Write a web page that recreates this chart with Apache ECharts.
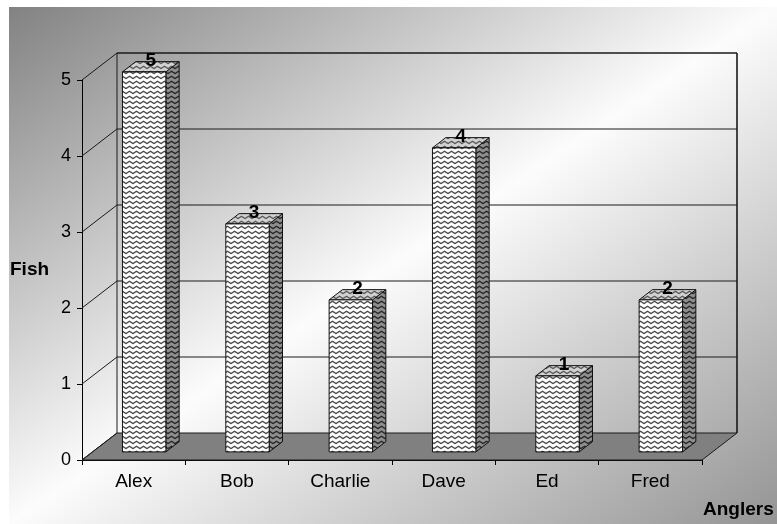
<!DOCTYPE html>
<html>
<head>
<meta charset="utf-8">
<script src="https://cdn.jsdelivr.net/npm/echarts@6/dist/echarts.min.js"></script>
<style>
  html, body { margin: 0; padding: 0; background: #ffffff; }
  #chart { width: 777px; height: 524px; }
</style>
</head>
<body>
<div id="chart"></div>
<script>
// Fish caught per angler
const categories = ['Alex', 'Bob', 'Charlie', 'Dave', 'Ed', 'Fred'];
const fishCaught = [5, 3, 2, 4, 1, 2];
const valueTicks = [0, 1, 2, 3, 4, 5];

// Pseudo-3D box: depth offset in pixels, bar placement within the depth
const DEPTH_X = 35, DEPTH_Y = -27;
const BAR_NEAR = 0.3, BAR_FAR = 0.68, BAR_WIDTH = 0.42;
const FONT = 'Arial, "Liberation Sans", sans-serif';

// Small repeating tile with a wavy line, used to fill bar faces
function wavePattern(bg, fg) {
  const c = document.createElement('canvas');
  c.width = 7; c.height = 5;
  const g = c.getContext('2d');
  g.fillStyle = bg; g.fillRect(0, 0, 7, 5);
  g.strokeStyle = fg; g.lineWidth = 1.3;
  g.beginPath();
  g.moveTo(-1, 3.6); g.lineTo(0, 3.6); g.lineTo(3.5, 1.2); g.lineTo(7, 3.6); g.lineTo(8, 3.6);
  g.stroke();
  return { image: c, repeat: 'repeat' };
}
const frontFill = wavePattern('#ffffff', '#4a4a4a');
const sideFill = wavePattern('#8e8e8e', '#262626');
const topFill = wavePattern('#d2d2d2', '#5a5a5a');

const chart = echarts.init(document.getElementById('chart'), null, { renderer: 'canvas' });

function renderBox(params, api) {
  const cs = params.coordSys;
  const x = cs.x, y = cs.y, w = cs.width, h = cs.height;
  const line = { stroke: '#1a1a1a', lineWidth: 1 };
  const children = [];
  // floor
  children.push({
    type: 'polygon',
    shape: { points: [[x, y + h], [x + w, y + h], [x + w + DEPTH_X, y + h + DEPTH_Y], [x + DEPTH_X, y + h + DEPTH_Y]] },
    style: { fill: '#808080', stroke: '#1a1a1a', lineWidth: 1 }
  });
  // back wall edges
  children.push({ type: 'line', shape: { x1: x + DEPTH_X, y1: y + DEPTH_Y, x2: x + DEPTH_X, y2: y + h + DEPTH_Y }, style: line });
  children.push({ type: 'line', shape: { x1: x + w + DEPTH_X, y1: y + DEPTH_Y, x2: x + w + DEPTH_X, y2: y + h + DEPTH_Y }, style: { stroke: '#1a1a1a', lineWidth: 1.6 } });
  // grid lines on back wall and side wall
  valueTicks.forEach(function (t) {
    const yy = api.coord([0, t])[1];
    children.push({ type: 'line', shape: { x1: x, y1: yy, x2: x + DEPTH_X, y2: yy + DEPTH_Y }, style: line });
    if (t > 0) {
      children.push({ type: 'line', shape: { x1: x + DEPTH_X, y1: yy + DEPTH_Y, x2: x + w + DEPTH_X, y2: yy + DEPTH_Y }, style: { stroke: '#1a1a1a', lineWidth: t === valueTicks[valueTicks.length - 1] ? 1.4 : 1 } });
    }
  });
  return { type: 'group', children: children };
}

function renderBar(params, api) {
  const idx = api.value(0), v = api.value(1);
  const top = api.coord([idx, v]);
  const base = api.coord([idx, 0]);
  const bw = api.size([1, 0])[0] * BAR_WIDTH;
  const x0 = top[0] - bw / 2 + DEPTH_X * BAR_NEAR;
  const x1 = x0 + bw;
  const yt = top[1] + DEPTH_Y * BAR_NEAR;
  const yb = base[1] + DEPTH_Y * BAR_NEAR;
  const dx = DEPTH_X * (BAR_FAR - BAR_NEAR);
  const dy = DEPTH_Y * (BAR_FAR - BAR_NEAR);
  const edge = { stroke: '#111', lineWidth: 1 };
  return {
    type: 'group',
    children: [
      { type: 'polygon', shape: { points: [[x1, yt], [x1 + dx, yt + dy], [x1 + dx, yb + dy], [x1, yb]] },
        style: Object.assign({ fill: sideFill }, edge) },
      { type: 'polygon', shape: { points: [[x0, yt], [x0 + dx, yt + dy], [x1 + dx, yt + dy], [x1, yt]] },
        style: Object.assign({ fill: topFill }, edge) },
      { type: 'rect', shape: { x: x0, y: yt, width: bw, height: yb - yt },
        style: Object.assign({ fill: frontFill }, edge) },
      { type: 'text', z2: 10,
        style: { text: String(v), x: x0 + (bw + dx) / 2, y: yt + dy / 2 + 3,
                 font: 'bold 19px ' + FONT, fill: '#000', textAlign: 'center', textVerticalAlign: 'bottom' } }
    ]
  };
}

// Diagonal backdrop: dark at top-left, white across the anti-diagonal, grey at bottom-right
const BG = { x: 9, y: 7, w: 768, h: 517 };
const gLen = (BG.w * BG.h * 2) / Math.sqrt(BG.w * BG.w + BG.h * BG.h);
const gDir = [BG.h / Math.sqrt(BG.w * BG.w + BG.h * BG.h), BG.w / Math.sqrt(BG.w * BG.w + BG.h * BG.h)];

const option = {
  animation: false,
  backgroundColor: '#ffffff',
  graphic: [
    {
      type: 'rect', z: -10, silent: true,
      shape: { x: BG.x, y: BG.y, width: BG.w, height: BG.h },
      style: {
        fill: new echarts.graphic.LinearGradient(
          BG.x, BG.y, BG.x + gDir[0] * gLen, BG.y + gDir[1] * gLen, [
            { offset: 0, color: '#828282' },
            { offset: 0.5, color: '#fcfcfc' },
            { offset: 1, color: '#949494' }
          ], true)
      }
    },
    { type: 'text', z: 10, style: { text: 'Fish', x: 10, y: 270, font: 'bold 19px ' + FONT, fill: '#000', textAlign: 'left', textVerticalAlign: 'middle' } },
    { type: 'text', z: 10, style: { text: 'Anglers', x: 703, y: 510, font: 'bold 19px ' + FONT, fill: '#000', textAlign: 'left', textVerticalAlign: 'middle' } }
  ],
  grid: { left: 82, right: 75, top: 80, bottom: 64, containLabel: false, outerBoundsMode: 'none' },
  xAxis: {
    type: 'category',
    data: categories,
    boundaryGap: true,
    axisLine: { show: true, lineStyle: { color: '#000', width: 1 } },
    axisTick: { show: true, length: 5, lineStyle: { color: '#000' }, alignWithLabel: false },
    axisLabel: { color: '#000', fontSize: 19, fontFamily: FONT, margin: 12, interval: 0 },
    splitLine: { show: false }
  },
  yAxis: {
    type: 'value',
    min: 0, max: 5, interval: 1,
    axisLine: { show: true, lineStyle: { color: '#000', width: 1 } },
    axisTick: { show: true, length: 5, lineStyle: { color: '#000' } },
    axisLabel: { color: '#000', fontSize: 18, fontFamily: FONT, margin: 11 },
    splitLine: { show: false }
  },
  series: [
    {
      type: 'custom', name: 'box', z: 1, clip: false, silent: true,
      renderItem: renderBox,
      data: [[0, 0]],
      encode: { x: 0, y: 1 }
    },
    {
      type: 'custom', name: 'Fish', z: 3, clip: false,
      renderItem: renderBar,
      data: categories.map(function (c, i) { return [i, fishCaught[i]]; }),
      encode: { x: 0, y: 1 }
    }
  ]
};

chart.setOption(option);
</script>
</body>
</html>
